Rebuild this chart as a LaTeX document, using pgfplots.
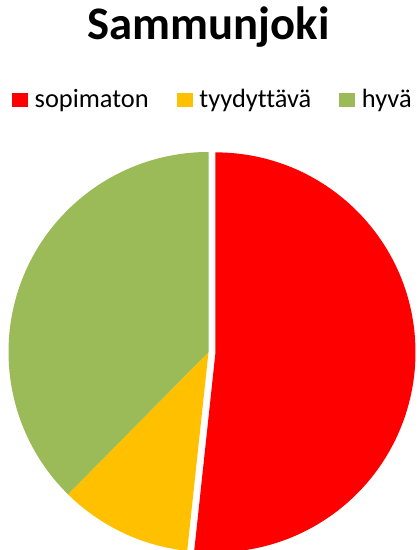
\documentclass[border=0pt]{standalone}
\usepackage{pgfplots}
\usepackage{pgfplotstable}
\pgfplotsset{compat=1.18}
\usepackage{fontspec}
\setmainfont{Carlito}[Ligatures=NoCommon]

\definecolor{sopimaton}{RGB}{255,0,0}
\definecolor{tyydyttava}{RGB}{255,192,0}
\definecolor{hyva}{RGB}{155,187,89}

% shares of the three classes, in per cent
\pgfplotstableread{
share
51.7
10.7
37.6
}\pietable

\pgfplotstablegetelem{0}{share}\of\pietable \let\va\pgfplotsretval
\pgfplotstablegetelem{1}{share}\of\pietable \let\vb\pgfplotsretval
\pgfplotstablegetelem{2}{share}\of\pietable \let\vc\pgfplotsretval
\pgfmathsetmacro{\aA}{90-3.6*\va}
\pgfmathsetmacro{\aB}{\aA-3.6*\vb}
\pgfmathsetmacro{\aC}{\aB-3.6*\vc}
\pgfmathsetmacro{\mA}{90-1.8*\va}

\begin{document}
\begin{tikzpicture}
\useasboundingbox (0,0) rectangle (313.5pt,412.5pt);
\begin{axis}[
    at={(0,0)}, anchor=south west,
    scale only axis, width=313.5pt, height=412.5pt,
    xmin=0, xmax=418, ymin=0, ymax=550,
    hide axis, clip=false,
    legend columns=3,
    legend style={draw=none, fill=none, inner sep=0pt,
        at={(axis description cs:0.51,0.8187)}, anchor=center,
        font=\fontsize{19.8}{23}\selectfont,
        /tikz/every odd column/.append style={column sep=3pt},
        /tikz/every even column/.append style={column sep=19pt}},
    legend image code/.code={\fill[#1, draw=none] (0pt,-5.25pt) rectangle (12pt,5.25pt);},
]
\addlegendimage{fill=sopimaton, draw=none}
\addlegendentry{sopimaton}
\addlegendimage{fill=tyydyttava, draw=none}
\addlegendentry{tyydyttävä}
\addlegendimage{fill=hyva, draw=none}
\addlegendentry{hyvä}

\node[anchor=base, inner sep=0pt, font=\fontsize{35}{40}\selectfont\bfseries]
    at (axis cs:208.5,510.7) {Sammunjoki};

\fill[sopimaton] ([shift={(\mA:5.25pt)}]axis cs:208.5,198) -- ++(90:150pt)
    arc[start angle=90, end angle=\aA, radius=150pt] -- cycle;
\fill[tyydyttava] (axis cs:208.5,198) -- ++(\aA:150pt)
    arc[start angle=\aA, end angle=\aB, radius=150pt] -- cycle;
\fill[hyva] (axis cs:208.5,198) -- ++(\aB:150pt)
    arc[start angle=\aB, end angle=\aC, radius=150pt] -- cycle;
\end{axis}
\end{tikzpicture}
\end{document}
